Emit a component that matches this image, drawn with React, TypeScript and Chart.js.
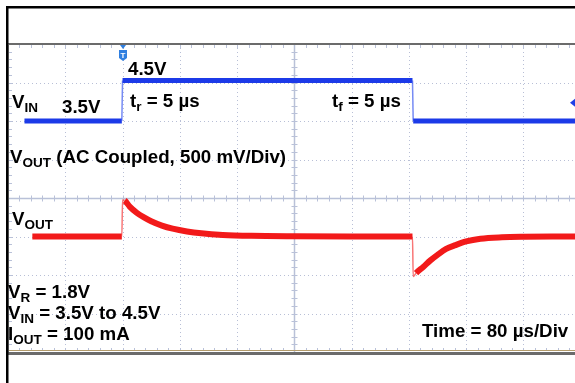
import React, { useEffect, useRef } from "react";
import { Chart, registerables } from "chart.js";

Chart.register(...registerables);

// ---- data (time in µs from left screen edge) ----
const vinTimes = [23, 159, 160, 565, 566, 792];
const vinVolts = [3.5, 3.5, 4.5, 4.5, 3.5, 3.5];

const voutTimes = [34, 159, 160, 163, 170, 180, 190, 200, 215, 230, 250, 270, 300, 340, 400, 480, 565, 566, 570, 580, 590, 600, 612, 625, 640, 660, 690, 720, 760, 792];
const voutMilliVolts = [0, 0, 475, 468, 388, 308, 248, 198, 142, 102, 66, 42, 21, 9, 3, 0, 0, -520, -475, -395, -310, -238, -162, -112, -64, -29, -10, -3, 0, 0];

const timePerDiv = 80; // µs
const triggerTime = 160; // µs
const triggerLevel = 3.95; // V

const labelVinLow = "3.5V";
const labelVinHigh = "4.5V";
const labelRise = [{ t: "t" }, { t: "r", sub: true }, { t: " = 5 µs" }];
const labelFall = [{ t: "t" }, { t: "f", sub: true }, { t: " = 5 µs" }];
const labelVin = [{ t: "V" }, { t: "IN", sub: true }];
const labelVoutTitle = [{ t: "V" }, { t: "OUT", sub: true }, { t: " (AC Coupled, 500 mV/Div)" }];
const labelVout = [{ t: "V" }, { t: "OUT", sub: true }];
const labelCond1 = [{ t: "V" }, { t: "R", sub: true }, { t: " = 1.8V" }];
const labelCond2 = [{ t: "V" }, { t: "IN", sub: true }, { t: " = 3.5V to 4.5V" }];
const labelCond3 = [{ t: "I" }, { t: "OUT", sub: true }, { t: " = 100 mA" }];
const labelTime = "Time = 80 µs/Div";

const FONT = '"Liberation Sans", Arial, Helvetica, sans-serif';
const MAIN = `bold 18px ${FONT}`;
const SUB = `bold 13px ${FONT}`;
const STRETCH = 1.04;

type Part = { t: string; sub?: boolean };

function drawRich(ctx: CanvasRenderingContext2D, x: number, y: number, parts: Part[]) {
  let cx = x;
  ctx.fillStyle = "#000";
  ctx.textBaseline = "alphabetic";
  ctx.textAlign = "left";
  for (const p of parts) {
    ctx.font = p.sub ? SUB : MAIN;
    ctx.save();
    ctx.translate(cx, p.sub ? y + 4 : y);
    ctx.scale(STRETCH, 1);
    ctx.fillText(p.t, 0, 0);
    ctx.restore();
    cx += ctx.measureText(p.t).width * STRETCH;
  }
}

const scopePlugin = {
  id: "scope",
  beforeDatasetsDraw(chart: any) {
    const ctx: CanvasRenderingContext2D = chart.ctx;
    const { left, right, top, bottom } = chart.chartArea;
    const xs = chart.scales.x;
    const ds = chart.scales.div;
    ctx.save();
    // dotted grid
    ctx.strokeStyle = "rgba(160,170,200,0.75)";
    ctx.lineWidth = 1;
    ctx.setLineDash([1, 3]);
    for (let k = 1; k <= 9; k++) {
      if (k === 5) continue;
      const px = Math.round(xs.getPixelForValue(k * timePerDiv)) + 0.5;
      ctx.beginPath();
      ctx.moveTo(px, top);
      ctx.lineTo(px, bottom);
      ctx.stroke();
    }
    for (let k = -3; k <= 3; k++) {
      if (k === 0) continue;
      const py = Math.round(ds.getPixelForValue(k)) + 0.5;
      ctx.beginPath();
      ctx.moveTo(left, py);
      ctx.lineTo(right, py);
      ctx.stroke();
    }
    ctx.setLineDash([]);
    // center cross
    const cx = Math.round(xs.getPixelForValue(5 * timePerDiv)) + 0.5;
    const cy = Math.round(ds.getPixelForValue(0)) + 0.5;
    ctx.strokeStyle = "#b9c1d8";
    ctx.lineWidth = 1.5;
    ctx.beginPath();
    ctx.moveTo(cx, top);
    ctx.lineTo(cx, bottom);
    ctx.moveTo(left, cy);
    ctx.lineTo(right, cy);
    ctx.stroke();
    // minor ticks
    ctx.lineWidth = 1;
    ctx.beginPath();
    for (let i = 1; i < 50; i++) {
      const px = Math.round(xs.getPixelForValue(i * timePerDiv / 5)) + 0.5;
      if (px > right) break;
      ctx.moveTo(px, cy - 3);
      ctx.lineTo(px, cy + 3);
      ctx.moveTo(px, top + 1);
      ctx.lineTo(px, top + 4);
      ctx.moveTo(px, bottom - 4);
      ctx.lineTo(px, bottom - 1);
    }
    for (let i = -19; i < 20; i++) {
      const py = Math.round(ds.getPixelForValue(i / 5)) + 0.5;
      ctx.moveTo(cx - 3, py);
      ctx.lineTo(cx + 3, py);
      ctx.moveTo(left + 1, py);
      ctx.lineTo(left + 4, py);
    }
    ctx.stroke();
    ctx.restore();
  },
  afterDatasetsDraw(chart: any) {
    const ctx: CanvasRenderingContext2D = chart.ctx;
    const { left, right, top, bottom } = chart.chartArea;
    const xs = chart.scales.x;
    const vin = chart.scales.vin;
    ctx.save();
    // plot frame lines
    ctx.fillStyle = "#6b6b6b";
    ctx.fillRect(left, top - 1, right - left, 2);
    ctx.fillStyle = "#b49c6c";
    ctx.fillRect(left, bottom - 2, right - left, 1);
    ctx.fillStyle = "#6b6b6b";
    ctx.fillRect(left, bottom, right - left, 3);
    ctx.fillStyle = "#9a9a9a";
    ctx.fillRect(left, top, 1, bottom - top);
    // outer black frame
    ctx.fillStyle = "#000";
    ctx.fillRect(6, 6, chart.width - 6, 2.5);
    ctx.fillRect(6, 6, 2.5, chart.height - 6);
    // trigger position marker
    const tx = Math.round(xs.getPixelForValue(triggerTime));
    ctx.fillStyle = "#2f7fe0";
    ctx.beginPath();
    ctx.moveTo(tx - 3, top + 1);
    ctx.lineTo(tx + 3, top + 1);
    ctx.lineTo(tx, top + 5);
    ctx.closePath();
    ctx.fill();
    ctx.beginPath();
    ctx.moveTo(tx - 4, top + 6);
    ctx.lineTo(tx + 4, top + 6);
    ctx.lineTo(tx + 4, top + 14);
    ctx.lineTo(tx, top + 17);
    ctx.lineTo(tx - 4, top + 14);
    ctx.closePath();
    ctx.fill();
    ctx.fillStyle = "#fff";
    ctx.font = `bold 8px ${FONT}`;
    ctx.textAlign = "center";
    ctx.fillText("T", tx, top + 14);
    // trigger level marker
    const ly = vin.getPixelForValue(triggerLevel);
    ctx.fillStyle = "#1f3fe6";
    ctx.beginPath();
    ctx.moveTo(right, ly - 4);
    ctx.lineTo(right - 5, ly);
    ctx.lineTo(right, ly + 4);
    ctx.closePath();
    ctx.fill();
    // labels
    drawRich(ctx, 128, 75, [{ t: labelVinHigh }]);
    drawRich(ctx, 12, 108, labelVin);
    drawRich(ctx, 62, 113, [{ t: labelVinLow }]);
    drawRich(ctx, 130, 107, labelRise);
    drawRich(ctx, 332, 107, labelFall);
    drawRich(ctx, 10, 163, labelVoutTitle);
    drawRich(ctx, 12, 225, labelVout);
    drawRich(ctx, 8, 298, labelCond1);
    drawRich(ctx, 8, 319, labelCond2);
    drawRich(ctx, 8, 340, labelCond3);
    drawRich(ctx, 422, 337, [{ t: labelTime }]);
    ctx.restore();
  },
};

const edgeWidth = (thick: number) => (c: any) => (Math.abs(c.p1.x - c.p0.x) < 3 ? 1.5 : thick);

export default function App() {
  const ref = useRef<HTMLCanvasElement | null>(null);
  useEffect(() => {
    if (!ref.current) return;
    const chart = new Chart(ref.current, {
      type: "line",
      data: {
        datasets: [
          {
            label: "VIN",
            data: vinTimes.map((t, i) => ({ x: t, y: vinVolts[i] })),
            yAxisID: "vin",
            borderColor: "#1c3ae8",
            borderWidth: 5,
            pointRadius: 0,
            tension: 0,
            segment: {
              borderWidth: edgeWidth(5),
              borderColor: (c: any) => (Math.abs(c.p1.x - c.p0.x) < 3 ? "rgba(60,90,240,0.7)" : "#1c3ae8"),
            },
          },
          {
            label: "VOUT",
            data: voutTimes.map((t, i) => ({ x: t, y: voutMilliVolts[i] })),
            yAxisID: "vout",
            borderColor: "#f21a1a",
            borderWidth: 6,
            pointRadius: 0,
            cubicInterpolationMode: "monotone",
            segment: {
              borderWidth: edgeWidth(6),
              borderColor: (c: any) => (Math.abs(c.p1.x - c.p0.x) < 3 ? "rgba(245,60,60,0.7)" : "#f21a1a"),
            },
          },
        ],
      },
      options: {
        animation: false,
        responsive: false,
        devicePixelRatio: 1,
        layout: { padding: { left: 8, top: 44, right: 0, bottom: 31 } },
        plugins: { legend: { display: false }, tooltip: { enabled: false } },
        scales: {
          x: { type: "linear", axis: "x", position: "bottom", min: 0, max: 792, display: false },
          vin: { type: "linear", axis: "y", position: "left", min: -2.2, max: 5.4, display: false },
          vout: { type: "linear", axis: "y", position: "left", min: -1500, max: 2500, display: false },
          div: { type: "linear", axis: "y", position: "left", min: -4, max: 4, display: false },
        },
      },
      plugins: [scopePlugin],
    } as any);
    return () => chart.destroy();
  }, []);
  return (
    <div style={{ position: "fixed", left: 0, top: 0, width: 575, height: 383, background: "#fff" }}>
      <canvas ref={ref} width={575} height={383} style={{ display: "block" }} />
    </div>
  );
}
